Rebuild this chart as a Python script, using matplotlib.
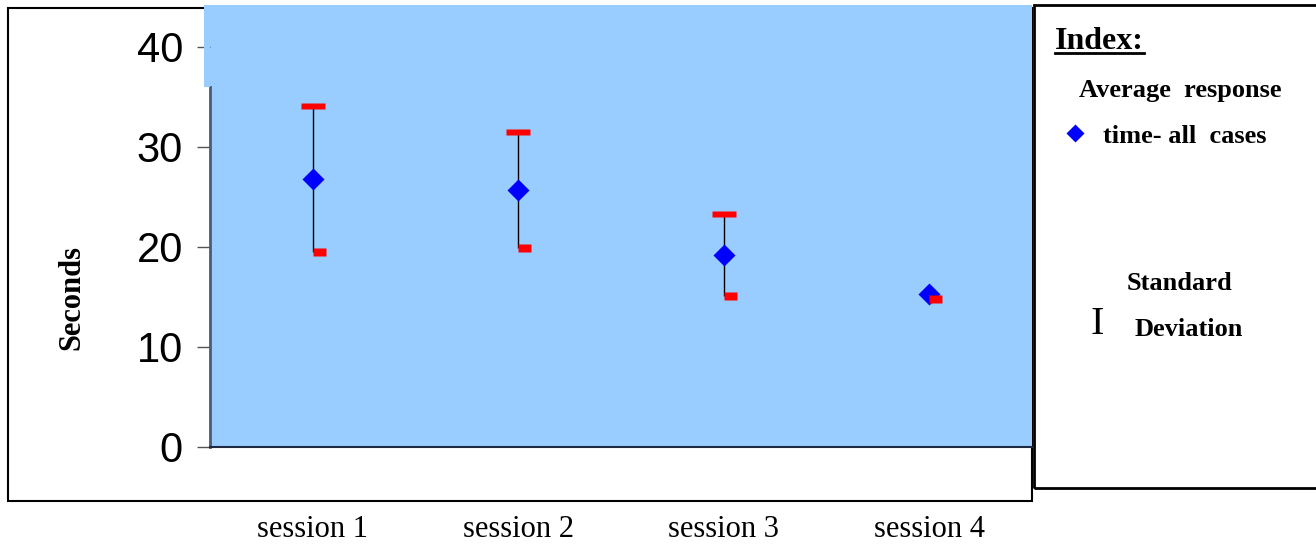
import matplotlib.pyplot as plt
from matplotlib.patches import Rectangle
from matplotlib.lines import Line2D
from matplotlib.path import Path

# data
sessions = ['session 1', 'session 2', 'session 3', 'session 4']
avg_time = [26.8, 25.7, 19.25, 15.35]
std_dev = [7.35, 5.8, 4.1, 0.5]
# the upper red mark of session 4 is hidden behind its diamond in the picture
upper_shown = [True, True, True, False]

W, H = 1316, 548


def fx(px):
    return px / W


def fy(py):
    return 1 - py / H


plt.rcParams['font.family'] = ['Liberation Serif', 'DejaVu Serif']

fig = plt.figure(figsize=(W / 100, H / 100), dpi=100)
fig.patch.set_facecolor('white')

# outer chart frame
fig.add_artist(Rectangle((fx(8), fy(501)), fx(1032) - fx(8), fy(8) - fy(501),
                         transform=fig.transFigure, fill=False, edgecolor='black',
                         lw=1.5, zorder=-1))

ax = fig.add_axes([fx(210), fy(447), fx(1032) - fx(210), fy(5) - fy(447)])
ax.set_facecolor('#99CCFF')

x = list(range(1, len(sessions) + 1))
upper = [m + s for m, s in zip(avg_time, std_dev)]
lower = [m - s for m, s in zip(avg_time, std_dev)]
up_x = [xi for xi, ok in zip(x, upper_shown) if ok]
up_y = [u for u, ok in zip(upper, upper_shown) if ok]

up_cap = Path([(-1, -0.3), (1, -0.3), (1, 0.3), (-1, 0.3), (-1, -0.3)], closed=True)
low_cap = Path([(0, -0.55), (2, -0.55), (2, 0.55), (0, 0.55), (0, -0.55)], closed=True)

ax.vlines(x, lower, upper, color='black', lw=1, zorder=2)
ax.plot(up_x, up_y, ls='none', marker=up_cap, ms=16.6, mfc='#FF0000', mec='none', zorder=3)
ax.plot(x, avg_time, ls='none', marker='D', ms=11.5, mfc='#0000FF', mec='none', zorder=4)
ax.plot(x, lower, ls='none', marker=low_cap, ms=18.7, mfc='#FF0000', mec='none', zorder=5)

ax.set_xlim(0.5, 4.5)
ax.set_ylim(0, 44.2)
ax.set_yticks([0, 10, 20, 30, 40])
ax.set_xticks(x, sessions)
ax.tick_params(axis='x', length=0, pad=49, labelsize=22)
ax.tick_params(axis='y', direction='out', length=9.5, width=1, color='#555555',
               pad=10, labelsize=30)
for lab in ax.get_yticklabels():
    lab.set_fontfamily(['Liberation Sans', 'DejaVu Sans'])

for side in ('top', 'right'):
    ax.spines[side].set_visible(False)
ax.spines['left'].set_bounds(0, 36)
ax.spines['left'].set_color('#4A5A78')
ax.spines['left'].set_linewidth(2)
ax.spines['bottom'].set_color('#1F2A40')
ax.spines['bottom'].set_linewidth(1.5)

# blue strip at top left of the plot area
fig.add_artist(Rectangle((fx(204), fy(87)), fx(210) - fx(204), fy(5) - fy(87),
                         transform=fig.transFigure, facecolor='#99CCFF',
                         edgecolor='none', zorder=2))

fig.text(fx(72), fy(298), 'Seconds', rotation=90, ha='center', va='center',
         fontsize=22, fontweight='bold')

# index box on the right
fig.add_artist(Rectangle((fx(1034), fy(488)), fx(1330) - fx(1034), fy(5) - fy(488),
                         transform=fig.transFigure, fill=False, edgecolor='black', lw=2))
fig.text(fx(1055), fy(49), 'Index:', ha='left', va='baseline', fontsize=23, fontweight='bold')
fig.add_artist(Line2D([fx(1055), fx(1144)], [fy(53), fy(53)], transform=fig.transFigure,
                      color='black', lw=2))
fig.text(fx(1079), fy(97), 'Average  response', ha='left', va='baseline',
         fontsize=19, fontweight='bold')
fig.add_artist(Line2D([fx(1075)], [fy(133)], transform=fig.transFigure, ls='none',
                      marker='D', ms=9.5, mfc='#0000FF', mec='none'))
fig.text(fx(1103), fy(143), 'time- all  cases', ha='left', va='baseline',
         fontsize=19, fontweight='bold')
fig.text(fx(1127), fy(290), 'Standard', ha='left', va='baseline',
         fontsize=19, fontweight='bold')
fig.text(fx(1090), fy(334), 'I', ha='left', va='baseline', fontsize=29)
fig.text(fx(1135), fy(336), 'Deviation', ha='left', va='baseline',
         fontsize=19, fontweight='bold')

fig.savefig('out.png', dpi=100)
